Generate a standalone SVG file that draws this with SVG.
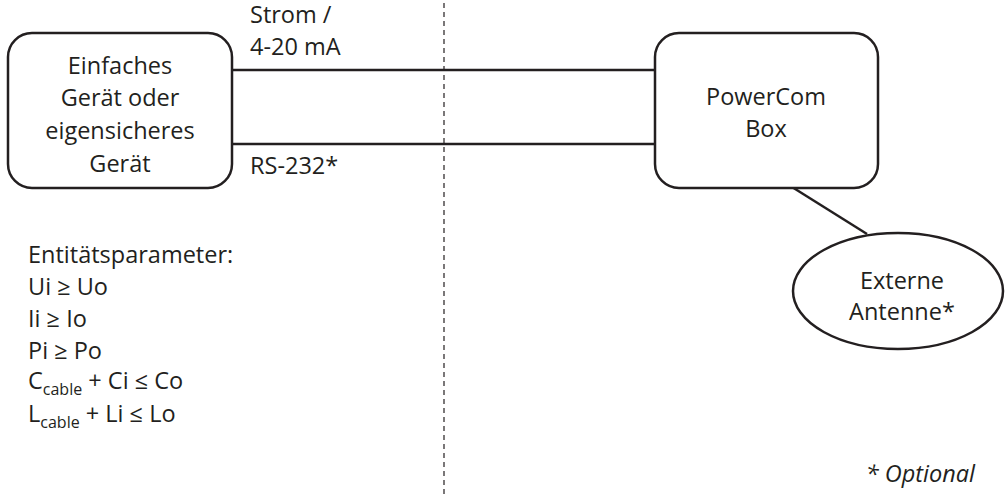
<svg xmlns="http://www.w3.org/2000/svg" width="1005" height="495" viewBox="0 0 1005 495">
<style>
text{font-family:"Open Sans","Noto Sans","Liberation Sans",sans-serif;font-size:23.5px;fill:#231f20}
.c{text-anchor:middle}
.box{fill:#fff;stroke:#231f20;stroke-width:2.5}
.ln{stroke:#231f20;stroke-width:2.5;fill:none}
.sub{font-size:16px}
</style>
<rect width="1005" height="495" fill="#fff"/>
<g id="connectors">
<line class="ln" x1="444" y1="3" x2="444" y2="495" stroke-dasharray="5 4" style="stroke-width:1.2"/>
<line class="ln" x1="232" y1="70" x2="656" y2="70"/>
<line class="ln" x1="232" y1="144" x2="656" y2="144"/>
<line class="ln" x1="792" y1="187" x2="867" y2="234"/>
</g>
<g id="labels">
<text x="250" y="23">Strom /</text>
<text x="250" y="55">4-20 mA</text>
<text x="250" y="174">RS-232*</text>
</g>
<g id="device">
<rect class="box" x="8" y="33" width="224" height="155" rx="24"/>
<text class="c" x="120" y="74">Einfaches</text>
<text class="c" x="120" y="106">Gerät oder</text>
<text class="c" x="120" y="139">eigensicheres</text>
<text class="c" x="120" y="172">Gerät</text>
</g>
<g id="powercom">
<rect class="box" x="655" y="33" width="223" height="155" rx="24"/>
<text class="c" x="766" y="105">PowerCom</text>
<text class="c" x="766" y="137">Box</text>
</g>
<g id="antenna">
<ellipse class="box" cx="898" cy="291" rx="105" ry="58"/>
<text class="c" x="902" y="289">Externe</text>
<text class="c" x="902" y="320">Antenne*</text>
</g>
<g id="params">
<text x="28" y="263">Entitätsparameter:</text>
<text x="28" y="295">Ui ≥ Uo</text>
<text x="28" y="327">Ii ≥ Io</text>
<text x="28" y="359">Pi ≥ Po</text>
<text x="28" y="389">C<tspan class="sub" dy="6">cable</tspan><tspan dy="-6"> + Ci ≤ Co</tspan></text>
<text x="28" y="422">L<tspan class="sub" dy="6">cable</tspan><tspan dy="-6"> + Li ≤ Lo</tspan></text>
</g>
<g id="note">
<text x="975" y="482" style="text-anchor:end;font-style:italic">* Optional</text>
</g>
</svg>
